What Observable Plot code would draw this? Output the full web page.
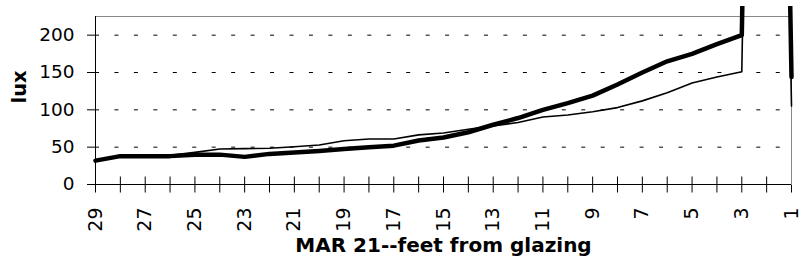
<!DOCTYPE html>
<html>
<head>
<meta charset="utf-8">
<script src="https://cdn.jsdelivr.net/npm/d3@7"></script>
<script src="https://cdn.jsdelivr.net/npm/@observablehq/plot@0.6"></script>
<style>
  html, body { margin: 0; padding: 0; background: #fff; }
  #chart { position: absolute; left: 0; top: 6px; }
  #chart svg [aria-label^="y-axis"] text { font-family: "DejaVu Sans", sans-serif; font-size: 18.5px; fill: #000; }
  #chart svg [aria-label^="x-axis"] text { font-family: "DejaVu Sans", sans-serif; font-size: 19px; fill: #000; }
  #chart svg g[aria-label="x-axis"] g.tick line { transform: translateY(-8px); }
  #chart svg g[aria-label="x-axis tick"] { transform: translate(0.5px, -7.5px); }
</style>
</head>
<body>
<div id="chart"></div>
<script>
// feet from glazing (categories)
const feet = [29,28,27,26,25,24,23,22,21,20,19,18,17,16,15,14,13,12,11,10,9,8,7,6,5,4,3,2,1];
// tick labels shown on the category axis
const feetLabels = [29,27,25,23,21,19,17,15,13,11,9,7,5,3,1];
// heavy series (lux); value at 2 ft runs far off the top of the chart
const luxHeavy = [32,38,38,38,40,40,37,41,43,45,47.5,50,52,59,63,70,80,89,100,109,119,134,150,165,175,188,200,2000,144];
// light series (lux)
const luxLight = [32,39,39,39,43,47.5,48,48.5,50.5,53,58.5,61,61,66.5,69,74,78.5,83,90.5,93,97.5,103,112,123,136,144,151,2000,105];
// y tick values
const yTicks = [0,50,100,150,200];
const gridValues = [50,100,150,200];

const title = "MAR 21--feet from glazing";
const yLabel = "lux";

const heavy = feet.map((f, i) => ({feet: f, lux: luxHeavy[i]}));
const light = feet.map((f, i) => ({feet: f, lux: luxLight[i]}));
const labelSet = new Set(feetLabels);

const chart = Plot.plot({
  width: 800,
  height: 264,
  marginLeft: 95,
  marginRight: 9,
  marginTop: 10,
  marginBottom: 86,
  style: {overflow: "hidden", background: "#fff", color: "#000"},
  x: {type: "linear", domain: [29, 1], ticks: feet, tickFormat: d => labelSet.has(d) ? String(d) : "",
      tickSize: 16, tickPadding: 7, tickRotate: -90, label: null},
  y: {type: "linear", domain: [0, 225], ticks: yTicks, tickSize: 8, tickPadding: 13, label: null},
  marks: [
    Plot.frame({stroke: "#888"}),
    Plot.ruleY(gridValues, {stroke: "#000", strokeWidth: 1, strokeDasharray: "4,15.45"}),
    Plot.ruleX([29], {stroke: "#000"}),
    Plot.ruleY([0], {stroke: "#000"}),
    Plot.text([yLabel], {frameAnchor: "left", dx: -76, dy: 3, rotate: -90, fontSize: 19.5, fontWeight: "bold", fontFamily: "DejaVu Sans", fill: "#000"}),
    Plot.text([title], {frameAnchor: "bottom", dy: 67.6, fontSize: 20, fontWeight: "bold", fontFamily: "DejaVu Sans", fill: "#000"}),
    Plot.line(light, {x: "feet", y: "lux", stroke: "#000", strokeWidth: 1.6, strokeLinejoin: "round"}),
    Plot.line(heavy, {x: "feet", y: "lux", stroke: "#000", strokeWidth: 4.5, strokeLinejoin: "round"})
  ]
});
document.getElementById("chart").appendChild(chart);
</script>
</body>
</html>
